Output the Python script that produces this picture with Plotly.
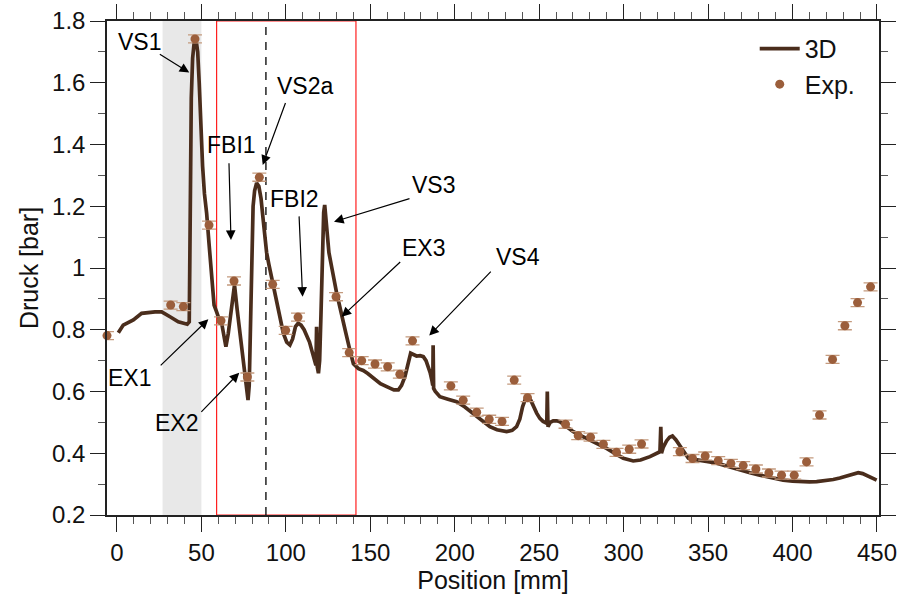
import plotly.graph_objects as go

# ---- 3D simulation curve ----
x3d = [0.8, 3.7, 9.7, 14.6, 22.5, 26.5, 31.4, 36.3, 41.6, 42.8, 43.1, 43.4, 44.0, 44.8, 45.8, 46.8,
       47.8, 48.7, 49.6, 50.7, 51.8, 53.1, 54.5, 55.5, 56.5, 57.5, 59.0, 60.0, 62.0, 63.4, 64.5,
       65.9, 67.9, 69.6, 71.2, 72.8, 74.4, 76.0, 77.6, 78.3, 78.8, 79.2, 79.8, 80.6, 81.5, 82.7,
       84.0, 85.3, 86.5, 87.6, 88.6, 90.0, 91.0, 92.5, 94.5, 96.5, 98.5, 100.5, 102.4, 104.0,
       105.7, 107.3, 109.0, 110.8, 112.3, 114.0, 115.3, 116.5, 117.2, 117.8, 118.2, 118.6, 119.3,
       120.0, 120.8, 121.6, 122.4, 123.0, 123.6, 124.2, 125.5, 127.1, 128.5, 130.1, 131.5, 133.0,
       135.5, 137.9, 140.0, 143.0, 145.8, 148.5, 151.8, 156.0, 161.6, 164.0, 166.6, 168.5, 170.5,
       172.3, 173.9, 175.5, 177.4, 179.5, 181.4, 183.0, 184.4, 185.5, 186.5, 187.0, 187.2, 187.5,
       188.5, 191.2, 196.0, 201.1, 206.0, 211.0, 216.0, 220.8, 225.0, 230.7, 234.0, 236.6, 238.5,
       240.2, 241.8, 243.5, 245.0, 246.5, 248.5, 250.4, 252.3, 254.5, 254.8, 255.2, 256.5, 258.3,
       260.3, 262.3, 266.0, 270.2, 275.0, 280.0, 285.0, 289.9, 295.0, 299.8, 305.7, 310.0, 315.6,
       319.0, 321.5, 322.0, 322.4, 323.5, 325.4, 327.2, 328.9, 331.0, 333.3, 335.8, 338.3, 341.5,
       345.2, 350.0, 355.1, 360.0, 365.0, 370.0, 374.8, 380.0, 384.7, 390.0, 394.5, 400.0, 404.4,
       410.0, 414.3, 420.0, 424.1, 428.0, 432.0, 435.5, 438.9, 441.5, 443.8, 447.0, 449.8]
y3d = [0.790, 0.815, 0.832, 0.853, 0.858, 0.858, 0.842, 0.826, 0.818, 0.826, 1.000, 1.300, 1.550,
       1.680, 1.735, 1.740, 1.700, 1.600, 1.450, 1.330, 1.240, 1.177, 1.080, 1.000, 0.920, 0.880,
       0.858, 0.842, 0.821, 0.778, 0.745, 0.788, 0.886, 0.945, 0.864, 0.788, 0.713, 0.648, 0.572,
       0.620, 0.750, 0.950, 1.100, 1.200, 1.250, 1.275, 1.265, 1.225, 1.160, 1.100, 1.050, 1.010,
       0.985, 0.950, 0.896, 0.840, 0.789, 0.760, 0.751, 0.770, 0.810, 0.821, 0.815, 0.800, 0.783,
       0.760, 0.734, 0.710, 0.697, 0.685, 0.810, 0.680, 0.659, 0.700, 0.850, 1.050, 1.180, 1.204,
       1.170, 1.112, 1.050, 1.004, 0.960, 0.918, 0.885, 0.853, 0.790, 0.734, 0.690, 0.674, 0.668,
       0.658, 0.643, 0.625, 0.611, 0.605, 0.605, 0.620, 0.648, 0.690, 0.724, 0.720, 0.715, 0.716,
       0.713, 0.700, 0.680, 0.660, 0.635, 0.620, 0.750, 0.610, 0.600, 0.583, 0.575, 0.567, 0.550,
       0.529, 0.505, 0.486, 0.476, 0.470, 0.474, 0.486, 0.510, 0.551, 0.575, 0.583, 0.572, 0.551,
       0.530, 0.513, 0.503, 0.497, 0.600, 0.486, 0.500, 0.505, 0.505, 0.502, 0.487, 0.470, 0.456,
       0.443, 0.429, 0.416, 0.399, 0.384, 0.375, 0.378, 0.389, 0.397, 0.405, 0.486, 0.400, 0.420,
       0.440, 0.452, 0.456, 0.443, 0.424, 0.400, 0.384, 0.380, 0.378, 0.373, 0.368, 0.360, 0.351,
       0.344, 0.337, 0.330, 0.324, 0.318, 0.313, 0.310, 0.308, 0.307, 0.308, 0.311, 0.315, 0.320,
       0.326, 0.332, 0.337, 0.334, 0.329, 0.320, 0.313]

# ---- Experimental points ----
x_exp = [-5.9, 31.8, 39.3, 46.2, 54.5, 61.6, 69.3, 77.2, 84.3, 92.2, 99.9, 107.2, 129.7, 137.5,
         144.9, 152.8, 160.3, 167.5, 175.0, 197.7, 205.0, 213.0, 220.4, 228.0, 235.2, 243.1,
         265.6, 273.1, 280.4, 288.0, 295.8, 303.3, 310.6, 333.3, 340.8, 348.3, 356.0, 363.5,
         370.8, 378.3, 386.0, 393.5, 401.0, 408.3, 416.0, 423.7, 431.0, 438.5, 446.2]
y_exp = [0.781, 0.880, 0.875, 1.742, 1.139, 0.829, 0.958, 0.647, 1.294, 0.947, 0.798, 0.841,
         0.907, 0.726, 0.700, 0.689, 0.680, 0.656, 0.764, 0.618, 0.572, 0.533, 0.510, 0.503,
         0.637, 0.580, 0.494, 0.457, 0.452, 0.429, 0.403, 0.413, 0.430, 0.405, 0.383, 0.391,
         0.376, 0.367, 0.360, 0.349, 0.336, 0.329, 0.329, 0.372, 0.524, 0.704, 0.813, 0.888, 0.939]
err_exp = 0.013

# ---- annotations: label, text pos, arrow tail, arrow head ----
ann_labels = ["VS1", "FBI1", "VS2a", "FBI2", "VS3", "EX3", "VS4", "EX1", "EX2"]
ann_text_x = [13.2, 68.1, 111.3, 105.4, 187.3, 181.3, 237.6, 7.7, 35.3]
ann_text_y = [1.733, 1.398, 1.589, 1.222, 1.269, 1.064, 1.037, 0.643, 0.497]
arr_tail_x = [24.5, 66.3, 100.1, 107.8, 174.1, 168.6, 222.2, 25.0, 49.1]
arr_tail_y = [1.695, 1.344, 1.539, 1.172, 1.226, 1.024, 0.993, 0.680, 0.529]
arr_head_x = [42.8, 67.5, 86.3, 109.9, 128.5, 133.0, 184.9, 54.1, 72.4]
arr_head_y = [1.633, 1.091, 1.334, 0.907, 1.150, 0.842, 0.781, 0.834, 0.661]

gray_zone = [27, 50]
red_zone = [59, 141.5]
dash_x = 88.2

FONT = "Arial, Liberation Sans, sans-serif"
LINE_COLOR = "#4a2d1c"
MARK_COLOR = "#9b5e3b"

fig = go.Figure()
fig.add_trace(go.Scatter(x=x3d, y=y3d, mode="lines", name="3D",
                         line=dict(color=LINE_COLOR, width=3.7)))
fig.add_trace(go.Scatter(x=x_exp, y=y_exp, mode="markers", name="Exp.",
                         marker=dict(color=MARK_COLOR, size=9),
                         error_y=dict(type="constant", value=err_exp, width=7,
                                      thickness=1.3, color="#c49a7e"),
                         cliponaxis=False))

fig.add_shape(type="rect", xref="x", yref="y", x0=gray_zone[0], x1=gray_zone[1], y0=0.2, y1=1.8,
              fillcolor="#e8e8e8", line=dict(width=0), layer="below")
fig.add_shape(type="rect", xref="x", yref="y", x0=red_zone[0], x1=red_zone[1], y0=0.2, y1=1.8,
              fillcolor="rgba(0,0,0,0)", line=dict(color="#ff2020", width=1.2), layer="below")
fig.add_shape(type="line", xref="x", yref="y", x0=dash_x, x1=dash_x, y0=0.2, y1=1.8,
              line=dict(color="black", width=1.3, dash="8px,7px"), layer="below")

for i, lab in enumerate(ann_labels):
    fig.add_annotation(x=ann_text_x[i], y=ann_text_y[i], text=lab, showarrow=False,
                       font=dict(size=23, color="black", family=FONT))
    fig.add_annotation(x=arr_head_x[i], y=arr_head_y[i], ax=arr_tail_x[i], ay=arr_tail_y[i],
                       axref="x", ayref="y", text="", showarrow=True, arrowhead=2,
                       arrowsize=1.6, arrowwidth=1.2, arrowcolor="black")

axis_common = dict(showline=True, linecolor="#222", linewidth=1.5, mirror="ticks",
                   ticks="outside", ticklen=15, tickwidth=1.3, tickcolor="#222",
                   showgrid=False, zeroline=False, automargin=False,
                   tickfont=dict(size=24, color="#111", family=FONT))

fig.update_xaxes(range=[-5.9, 451.2], tick0=0, dtick=50,
                 minor=dict(dtick=10, ticklen=7, ticks="outside", tickcolor="#555", tickwidth=1),
                 title=dict(text="Position [mm]", font=dict(size=25, color="#111", family=FONT),
                            standoff=4),
                 **axis_common)
fig.update_yaxes(range=[0.2, 1.8], tick0=0.2, dtick=0.2,
                 minor=dict(dtick=0.1, ticklen=7, ticks="outside", tickcolor="#555", tickwidth=1),
                 title=dict(text="Druck [bar]", font=dict(size=25, color="#111", family=FONT),
                            standoff=6),
                 **axis_common)

fig.update_layout(width=904, height=599, paper_bgcolor="white", plot_bgcolor="white",
                  margin=dict(l=107, r=25, t=21, b=84),
                  font=dict(family=FONT),
                  showlegend=True,
                  legend=dict(x=0.839, y=0.99, xanchor="left", yanchor="top",
                              bgcolor="rgba(0,0,0,0)", font=dict(size=25, color="#111", family=FONT),
                              itemwidth=40, tracegroupgap=0))

fig.write_html("out.html")
